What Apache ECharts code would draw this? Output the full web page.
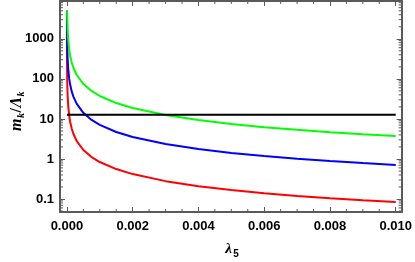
<!DOCTYPE html>
<html><head><meta charset="utf-8">
<script src="https://cdn.jsdelivr.net/npm/echarts@6/dist/echarts.min.js"></script>
<style>html,body{margin:0;padding:0;background:#fff}#c{width:415px;height:262px}</style>
</head><body><div id="c"></div>
<script>
// Tick values
const xTicks = [0, 0.002, 0.004, 0.006, 0.008, 0.010];
const xMinorTicks = [0.0005, 0.001, 0.0015, 0.0025, 0.003, 0.0035, 0.0045, 0.005, 0.0055, 0.0065, 0.007, 0.0075, 0.0085, 0.009, 0.0095];
const yTicks = [0.1, 1, 10, 100, 1000];
const yMinorTicks = [0.05, 0.06, 0.07, 0.08, 0.09,
  0.2, 0.3, 0.4, 0.5, 0.6, 0.7, 0.8, 0.9,
  2, 3, 4, 5, 6, 7, 8, 9,
  20, 30, 40, 50, 60, 70, 80, 90,
  200, 300, 400, 500, 600, 700, 800, 900,
  2000, 3000, 4000, 5000, 6000, 7000, 8000];

// Series
const greenLambda = [0.0000075, 0.00001, 0.00002, 0.00004, 0.00007, 0.0001, 0.00015, 0.0002, 0.0003, 0.0005, 0.00075, 0.001, 0.0015, 0.002, 0.003, 0.004, 0.005, 0.006, 0.007, 0.008, 0.009, 0.010];
const greenRatio  = [4990, 3740, 1870, 935, 534, 374, 249, 187, 125, 74.8, 49.9, 37.4, 24.9, 18.7, 12.5, 9.35, 7.48, 6.23, 5.34, 4.68, 4.16, 3.74];

const blueLambda = [0.0000014, 0.000002, 0.000005, 0.00001, 0.00002, 0.00004, 0.00007, 0.0001, 0.00015, 0.0002, 0.0003, 0.0005, 0.00075, 0.001, 0.0015, 0.002, 0.003, 0.004, 0.005, 0.006, 0.007, 0.008, 0.009, 0.010];
const blueRatio  = [5070, 3550, 1420, 710, 355, 178, 101, 71, 47.3, 35.5, 23.7, 14.2, 9.47, 7.1, 4.73, 3.55, 2.37, 1.78, 1.42, 1.18, 1.01, 0.89, 0.79, 0.71];

const redLambda = [0.00000017, 0.0000003, 0.0000006, 0.000001, 0.000002, 0.000005, 0.00001, 0.00002, 0.00004, 0.00007, 0.0001, 0.00015, 0.0002, 0.0003, 0.0005, 0.00075, 0.001, 0.0015, 0.002, 0.003, 0.004, 0.005, 0.006, 0.007, 0.008, 0.009, 0.010];
const redRatio  = [4940, 2800, 1400, 840, 420, 168, 84, 42, 21, 12, 8.4, 5.6, 4.2, 2.8, 1.68, 1.12, 0.84, 0.56, 0.42, 0.28, 0.21, 0.168, 0.14, 0.12, 0.105, 0.093, 0.084];

const thresholdLambda = [0, 0.010];
const thresholdRatio  = [12.8, 12.8];

const X_MIN = -0.00021, X_MAX = 0.01018;
const Y_MIN = 0.0475, Y_MAX = 8800;
const FRAME = '#5a5a5a';

const zip = (a, b) => a.map((v, i) => [v, b[i]]);
const fmtY = v => { const t = yTicks.find(t => Math.abs(v / t - 1) < 1e-6); return t === undefined ? '' : String(t); };

const labelFont = { fontFamily: 'Liberation Sans', fontWeight: 'bold', fontSize: 13, color: '#000' };

const chart = echarts.init(document.getElementById('c'), null, { renderer: 'canvas' });

function lineSeries(name, xs, ys, color) {
  return { name, type: 'line', data: zip(xs, ys), showSymbol: false, symbol: 'none',
    lineStyle: { color, width: 2 }, xAxisIndex: 0, yAxisIndex: 0, animation: false, clip: true };
}

chart.setOption({
  animation: false,
  grid: { left: 60, right: 12, top: 1, bottom: 50 },
  xAxis: [
    { type: 'value', position: 'bottom', min: X_MIN, max: X_MAX,
      axisLine: { show: true, onZero: false, lineStyle: { color: FRAME, width: 2 } },
      axisTick: { show: true, inside: true, length: 5, customValues: xTicks, lineStyle: { color: FRAME, width: 1 } },
      axisLabel: Object.assign({ show: true, margin: 8, customValues: xTicks, formatter: v => v.toFixed(3) }, labelFont),
      splitLine: { show: false } },
    { type: 'value', position: 'top', min: X_MIN, max: X_MAX,
      axisLine: { show: true, onZero: false, lineStyle: { color: FRAME, width: 2 } },
      axisTick: { show: true, inside: true, length: 5, customValues: xTicks, lineStyle: { color: FRAME, width: 1 } },
      axisLabel: { show: false }, splitLine: { show: false } }
  ],
  yAxis: [
    { type: 'log', logBase: 10, position: 'left', min: Y_MIN, max: Y_MAX, splitNumber: 5,
      axisLine: { show: true, onZero: false, lineStyle: { color: FRAME, width: 2 } },
      axisTick: { show: true, inside: true, length: 5, lineStyle: { color: FRAME, width: 1 } },
      axisLabel: Object.assign({ show: true, margin: 6, formatter: fmtY, showMinLabel: true, showMaxLabel: true }, labelFont),
      splitLine: { show: false }, minorTick: { show: false } },
    { type: 'log', logBase: 10, position: 'right', min: Y_MIN, max: Y_MAX, splitNumber: 5,
      axisLine: { show: true, onZero: false, lineStyle: { color: FRAME, width: 2 } },
      axisTick: { show: true, inside: true, length: 5, lineStyle: { color: FRAME, width: 1 } },
      axisLabel: { show: false }, splitLine: { show: false } }
  ],
  series: [
    { type: 'custom', coordinateSystem: 'cartesian2d', xAxisIndex: 0, yAxisIndex: 0, silent: true, clip: false,
      data: xMinorTicks.map(v => [v, 1]),
      renderItem: (params, api) => {
        const v = api.value(0);
        const b = api.coord([v, Y_MIN]), t = api.coord([v, Y_MAX]);
        const st = { stroke: FRAME, lineWidth: 1 };
        return { type: 'group', children: [
          { type: 'line', shape: { x1: b[0], y1: b[1], x2: b[0], y2: b[1] - 3 }, style: st },
          { type: 'line', shape: { x1: t[0], y1: t[1], x2: t[0], y2: t[1] + 3 }, style: st }
        ] };
      } },
    { type: 'custom', coordinateSystem: 'cartesian2d', xAxisIndex: 0, yAxisIndex: 0, silent: true, clip: false,
      data: yMinorTicks.map(v => [0, v]),
      renderItem: (params, api) => {
        const v = api.value(1);
        const l = api.coord([X_MIN, v]), r = api.coord([X_MAX, v]);
        const st = { stroke: FRAME, lineWidth: 1 };
        return { type: 'group', children: [
          { type: 'line', shape: { x1: l[0], y1: l[1], x2: l[0] + 3, y2: l[1] }, style: st },
          { type: 'line', shape: { x1: r[0], y1: r[1], x2: r[0] - 3, y2: r[1] }, style: st }
        ] };
      } },
    lineSeries('red', redLambda, redRatio, '#ff0000'),
    lineSeries('blue', blueLambda, blueRatio, '#0000ff'),
    lineSeries('green', greenLambda, greenRatio, '#00ff00'),
    lineSeries('threshold', thresholdLambda, thresholdRatio, '#000000')
  ],
  graphic: [
    { type: 'text', x: 228.5, y: 249, style: { text: 'λ', font: 'italic bold 15px "Liberation Serif"', fill: '#000', align: 'center', verticalAlign: 'middle' } },
    { type: 'text', x: 236, y: 254, style: { text: '5', font: 'bold 10px "Liberation Sans"', fill: '#000', align: 'center', verticalAlign: 'middle' } },
    { type: 'group', x: 17, y: 110, rotation: Math.PI / 2, children: [
      { type: 'text', x: -21, y: 0, style: { text: 'm', font: 'italic bold 16px "Liberation Serif"', fill: '#000', align: 'left', verticalAlign: 'middle' } },
      { type: 'text', x: -8, y: 4.5, style: { text: 'k', font: 'italic bold 10px "Liberation Serif"', fill: '#000', align: 'left', verticalAlign: 'middle' } },
      { type: 'text', x: -2.5, y: 0, style: { text: '/', font: 'bold 16px "Liberation Serif"', fill: '#000', align: 'left', verticalAlign: 'middle' } },
      { type: 'text', x: 2.5, y: 0, style: { text: 'Λ', font: 'italic bold 16px "Liberation Serif"', fill: '#000', align: 'left', verticalAlign: 'middle' } },
      { type: 'text', x: 13.5, y: 4.5, style: { text: 'k', font: 'italic bold 10px "Liberation Serif"', fill: '#000', align: 'left', verticalAlign: 'middle' } }
    ] }
  ]
});
</script></body></html>
